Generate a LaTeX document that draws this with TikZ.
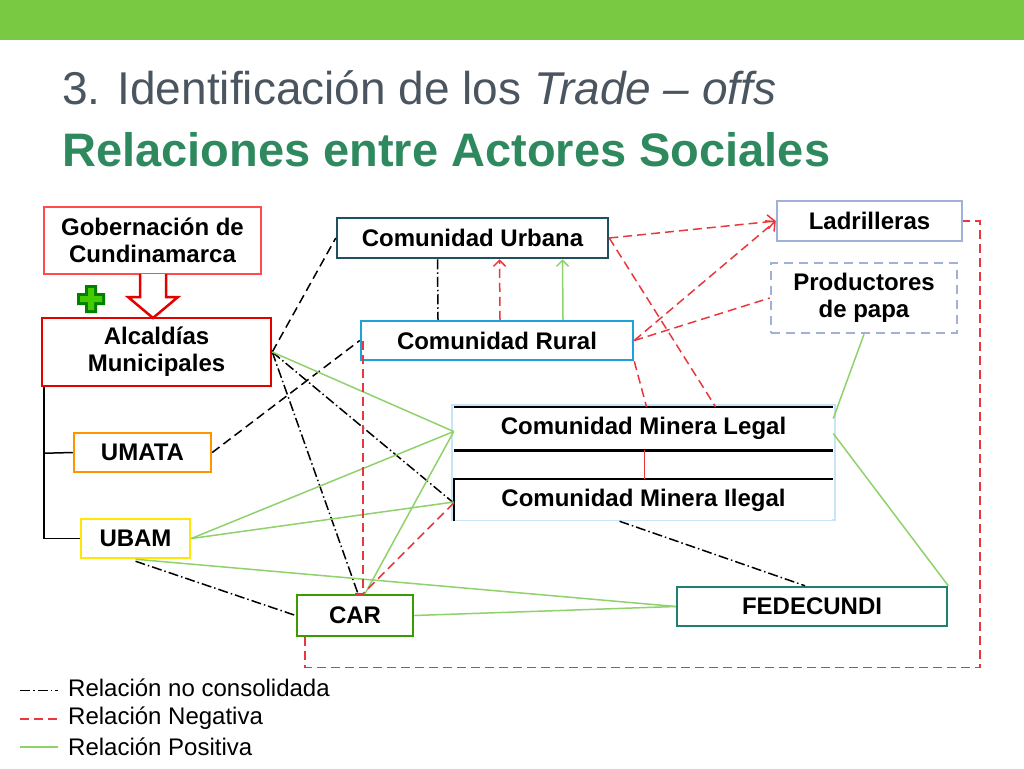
\documentclass[tikz,border=0pt]{standalone}
\usepackage{fontspec}
\setmainfont{Liberation Sans}
\usepackage{tikz}
\usetikzlibrary{arrows.meta}
\definecolor{barGreen}{HTML}{7AC943}
\definecolor{titleGray}{HTML}{4A5560}
\definecolor{titleGreen}{HTML}{2E8A5E}
\definecolor{negRed}{HTML}{E8383D}
\definecolor{posGreen}{HTML}{8FD16A}
\begin{document}
\begin{tikzpicture}[x=1pt,y=-1pt,
actor/.style={draw,line width=2.5pt,fill=white,inner sep=0,align=center,
    font=\fontsize{24}{27}\selectfont\bfseries},
noCons/.style={black,line width=1.5pt,dash pattern=on 10pt off 3pt on 1.5pt off 3pt},
noConsDash/.style={black,line width=1.5pt,dash pattern=on 9pt off 5pt},
negEdge/.style={negRed,line width=1.5pt,dash pattern=on 9pt off 5pt},
posEdge/.style={posGreen,line width=1.5pt},
legendText/.style={anchor=west,inner sep=0,font=\fontsize{24}{26}\selectfont}
]
\useasboundingbox (0,0) rectangle (1024,768);
\fill[barGreen] (0,0) rectangle (1024,40);
\node[anchor=west,inner sep=0,text=titleGray,font=\fontsize{46}{50}\selectfont] (t1) at (62,88)
  {3. Identificación de los \textit{Trade – offs}};
\node[anchor=west,inner sep=0,text=titleGreen,font=\fontsize{47}{50}\selectfont\bfseries] (t2) at (62,150)
  {Relaciones entre Actores Sociales};
% actores
\node[actor,draw=red!70,minimum width=217,minimum height=67] (gob) at (152.5,240.5) {Gobernación de\\Cundinamarca};
\node[actor,draw=red!90!black,minimum width=229,minimum height=68] (alc) at (156.5,352) {Alcaldías\\Municipales};
\node[actor,draw=orange!85!yellow,minimum width=137,minimum height=39] (umata) at (142.5,452.5) {UMATA};
\node[actor,draw=yellow!90!orange,minimum width=109,minimum height=39] (ubam) at (135.5,538.5) {UBAM};
\node[actor,draw=green!45!black!70!lime,minimum width=116,minimum height=41] (car) at (355,615.5) {CAR};
\node[actor,draw={rgb,255:red,31;green,80;blue,96},minimum width=271,minimum height=40] (cu) at (472.5,238) {Comunidad Urbana};
\node[actor,draw={rgb,255:red,32;green,160;blue,216},minimum width=272,minimum height=39] (cr) at (497,340.5) {Comunidad Rural};
\node[draw={rgb,255:red,200;green,228;blue,248},line width=2.5pt,minimum width=383,minimum height=115,inner sep=0] (minera) at (643.5,462.5) {};
\node[actor,draw=none,minimum width=377,minimum height=41] (legal) at (643.5,428.5) {Comunidad Minera Legal};
\node[actor,draw=none,minimum width=377,minimum height=40] (ilegal) at (643.5,500) {Comunidad Minera Ilegal};
\draw[line width=2.5pt] (legal.north west) -- (legal.north east) (legal.south west) -- (legal.south east);
\draw[line width=2.5pt] (ilegal.south west) -- (ilegal.north west) -- (ilegal.north east);
\node[actor,draw={rgb,255:red,160;green,176;blue,216},minimum width=185,minimum height=40] (ladr) at (869.5,221) {Ladrilleras};
\node[actor,draw={rgb,255:red,160;green,176;blue,216},dash pattern=on 9pt off 6pt,minimum width=186,minimum height=70] (prod) at (864,298) {Productores\\de papa};
\node[actor,draw={rgb,255:red,32;green,128;blue,112},minimum width=270,minimum height=39] (fed) at (812,606.5) {FEDECUNDI};
% cruz y flecha
\fill[green!50!black] (85,285) rectangle (97,313) (77,293) rectangle (105,305);
\fill[green!55!lime!80!black] (88,288) rectangle (94,310) (80,296) rectangle (102,302);
\draw[red!90!black,line width=2.5pt,fill=white] (140,274) -- (140,297) -- (128,297) -- (153,318)
  -- (178,297) -- (166,297) -- (166,274);
% arbol de alcaldias
\draw[line width=1.5pt] ([xshift=3]alc.south west) |- (ubam.west);
\draw[line width=1.5pt] ([xshift=3,yshift=-66]alc.south west) -- (umata.west);
% no consolidadas
\draw[noConsDash] (alc.east) -- (cu.west);
\draw[noConsDash] (umata.east) -- (cr.west);
\draw[noCons] (alc.east) -- ([xshift=3]car.north);
\draw[noCons] (alc.east) -- ([yshift=-3]ilegal.west);
\draw[noCons] ([yshift=-2]ubam.south) -- (car.west);
\draw[noCons] ([xshift=-24]ilegal.south) -- ([xshift=-7]fed.north);
\draw[noCons] ([xshift=-35]cu.south) -- ([xshift=-59]cr.north);
% positivas
\draw[posEdge] (alc.east) -- ([yshift=-3]legal.west);
\draw[posEdge] (ubam.east) -- ([yshift=-3]legal.west);
\draw[posEdge] (ubam.east) -- ([yshift=-2]ilegal.west);
\draw[posEdge] ([xshift=10]car.north) -- ([yshift=-3]legal.west);
\draw[posEdge] (ubam.south) -- (fed.west);
\draw[posEdge] (car.east) -- (fed.west);
\draw[posEdge,-{Straight Barb[length=6pt]}] ([xshift=66]cr.north) -- ([xshift=90]cu.south);
\draw[posEdge] (prod.south) -- ([yshift=10]legal.east);
\draw[posEdge] ([yshift=-5]legal.east) -- (fed.north east);
% negativas
\draw[negEdge,-{Straight Barb[length=6pt]}] ([xshift=3]cr.north) -- ([xshift=27]cu.south);
\draw[negEdge,-{Straight Barb[length=7pt]}] (cu.east) -- (ladr.west);
\draw[negEdge,-{Straight Barb[length=7pt]}] (cr.east) -- (ladr.west);
\draw[negEdge] (cr.east) -- (prod.west);
\draw[negEdge] (cu.east) -- ([xshift=72]legal.north);
\draw[negEdge] (cr.south east) -- ([xshift=3]legal.north);
\draw[negRed,line width=1.5pt] ([xshift=1]legal.south) -- ([xshift=1]ilegal.north);
\draw[negEdge] ([yshift=-3]ilegal.west) -- ([xshift=8]car.north);
\draw[negEdge] ([xshift=3]cr.west) -- ([xshift=3,yshift=2]cr.south west) |- (car.north);
\draw[negEdge] ([xshift=9]car.south west) -- ([xshift=9,yshift=-30]car.south west)
  -| (980,221) -- (ladr.east);
% leyenda
\coordinate (l1a) at (20,690); \coordinate (l1b) at (58,690);
\coordinate (l2a) at (20,719); \coordinate (l2b) at (58,719);
\coordinate (l3a) at (20,747); \coordinate (l3b) at (58,747);
\draw[noCons,line width=1pt] (l1a) -- (l1b);
\draw[negEdge] (l2a) -- (l2b);
\draw[posEdge] (l3a) -- (l3b);
\node[legendText] (lt1) at (68,688) {Relación no consolidada};
\node[legendText] (lt2) at (68,718) {Relación Negativa};
\node[legendText] (lt3) at (68,747) {Relación Positiva};
\end{tikzpicture}
\end{document}
